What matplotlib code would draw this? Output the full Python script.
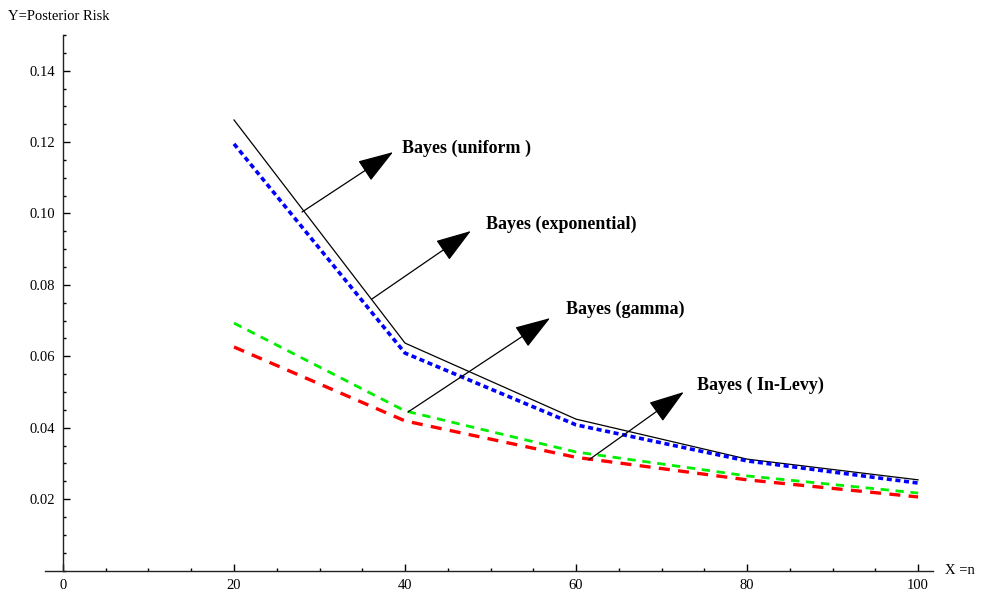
import matplotlib
matplotlib.use("Agg")
import matplotlib.pyplot as plt
from matplotlib.ticker import MultipleLocator, FixedLocator

n = [20, 40, 60, 80, 100]
uniform = [0.1262, 0.0637, 0.0424, 0.0312, 0.0254]
exponential = [0.1195, 0.0609, 0.0408, 0.0307, 0.0245]
gamma = [0.0693, 0.0447, 0.0332, 0.0265, 0.0217]
lnlevy = [0.0626, 0.0419, 0.0317, 0.0254, 0.0206]

labels = ["Bayes (uniform )", "Bayes (exponential)", "Bayes (gamma)", "Bayes ( In-Levy)"]
arrow_tails = [(27.95, 0.1004), (36.1, 0.0760), (40.35, 0.0444), (61.5, 0.0310)]
arrow_tips = [(38.6, 0.1172), (47.7, 0.0951), (56.96, 0.0707), (72.6, 0.0500)]
text_pos = [(39.6, 0.1183), (49.5, 0.0971), (58.8, 0.0732), (74.2, 0.0520)]

xticks = [0, 20, 40, 60, 80, 100]
yticks = [0.02, 0.04, 0.06, 0.08, 0.10, 0.12, 0.14]

plt.rcParams['font.family'] = ['Liberation Serif', 'DejaVu Serif']

fig = plt.figure(figsize=(9.81, 5.92), dpi=100)
ax = fig.add_axes([0.0459, 0.0363, 0.9048, 0.9046])

ax.plot(n, uniform, color='black', lw=0.9)
ax.plot(n, exponential, color='#0000ff', lw=2.6, dashes=(1.4, 1.0))
ax.plot(n, gamma, color='#00ee00', lw=2.0, dashes=(3.0, 2.4))
ax.plot(n, lnlevy, color='#ff0000', lw=2.4, dashes=(3.3, 2.5))

for lab, tail, tip, tp in zip(labels, arrow_tails, arrow_tips, text_pos):
    ax.annotate('', xy=tip, xytext=tail,
                arrowprops=dict(arrowstyle='-|>,head_length=1.5,head_width=0.5',
                                mutation_scale=15,
                                color='black', lw=0.9, shrinkA=0, shrinkB=0))
    ax.text(tp[0], tp[1], lab, fontsize=13, fontweight='bold', va='center', ha='left')

ax.set_xlim(-2.1, 101.7)
ax.set_ylim(0, 0.15)
ax.spines['left'].set_position(('data', 0))
ax.spines['right'].set_visible(False)
ax.spines['top'].set_visible(False)
for s in ['left', 'bottom']:
    ax.spines[s].set_linewidth(1.0)
    ax.spines[s].set_color('#222222')

ax.xaxis.set_major_locator(FixedLocator(xticks))
ax.xaxis.set_minor_locator(MultipleLocator(5))
ax.yaxis.set_major_locator(FixedLocator(yticks))
ax.yaxis.set_minor_locator(MultipleLocator(0.005))
ax.set_xticklabels([str(v) for v in xticks])
ax.set_yticklabels(["%.2f" % v for v in yticks])
ax.tick_params(which='major', direction='in', length=5, width=1.0, labelsize=10.5, pad=6)
ax.tick_params(which='minor', direction='in', length=2.5, width=1.0)

fig.text(8 / 981, 1 - 17 / 592, "Y=Posterior Risk", fontsize=10.5, va='center', ha='left')
ax.text(1.014, 0.0, "X =n", transform=ax.transAxes, fontsize=10.5, va='center', ha='left')

fig.savefig("out.png", dpi=100)
